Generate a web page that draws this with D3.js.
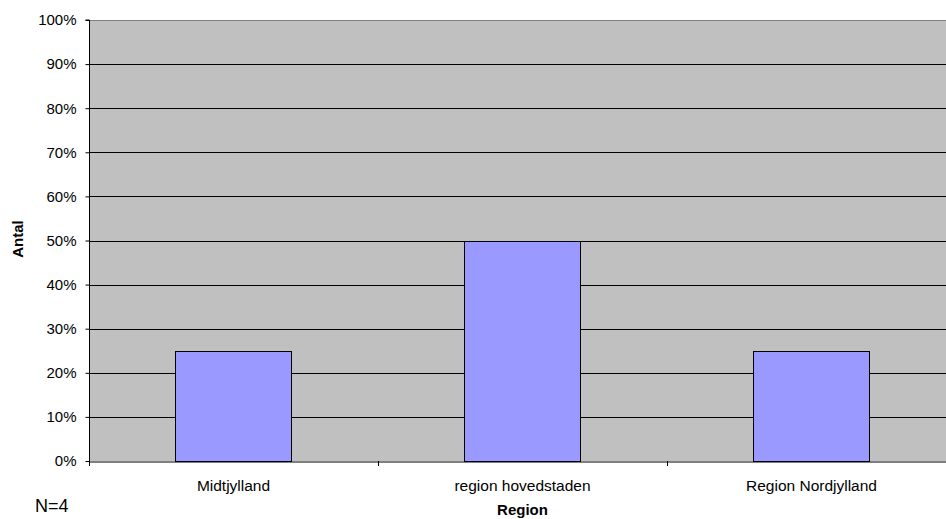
<!DOCTYPE html>
<html><head><meta charset="utf-8">
<script src="https://cdn.jsdelivr.net/npm/d3@7"></script>
<style>body{margin:0;background:#fff}text{font-family:"Liberation Sans",Arial,sans-serif}</style>
</head><body><svg id="c" width="946" height="519"></svg>
<script>
const categories = ["Midtjylland", "region hovedstaden", "Region Nordjylland"];
const values = [0.25, 0.5, 0.25];
const yTicks = [0,0.1,0.2,0.3,0.4,0.5,0.6,0.7,0.8,0.9,1.0];

const svg = d3.select("#c");
const L = 89, R = 956, T = 20, B = 461;
const x = d3.scaleBand().domain(categories).range([L, R]).paddingInner(0).paddingOuter(0);
const y = d3.scaleLinear().domain([0, 1]).range([B, T]);
const FF = '"Liberation Sans",Arial,sans-serif';

svg.append("rect").attr("x", L).attr("y", T).attr("width", R - L).attr("height", B - T).attr("fill", "#C0C0C0");
svg.append("line").attr("x1", L).attr("x2", R).attr("y1", T + 0.5).attr("y2", T + 0.5).attr("stroke", "#808080");

svg.selectAll(".grid").data(yTicks.filter(d => d > 0 && d < 1)).enter().append("line")
  .attr("x1", L).attr("x2", R).attr("y1", d => Math.round(y(d)) + 0.5).attr("y2", d => Math.round(y(d)) + 0.5)
  .attr("stroke", "#000");

const bw = x.bandwidth() * 0.4;
svg.selectAll(".bar").data(values).enter().append("rect")
  .attr("x", (d, i) => Math.floor(x(categories[i]) + x.bandwidth() / 2 - bw / 2) + 0.5)
  .attr("y", d => Math.round(y(d)) + 0.5)
  .attr("width", Math.round(bw))
  .attr("height", d => B - Math.round(y(d)))
  .attr("fill", "#9999FF").attr("stroke", "#000");

const yAxis = d3.axisLeft(y).tickValues(yTicks).tickFormat(d3.format(".0%")).tickSize(4).tickPadding(9);
const ya = svg.append("g").attr("transform", `translate(${L + 0.5},0)`).call(yAxis);
ya.select(".domain").attr("stroke", "#000").attr("d", `M-4,${T}H0V${B + 0.5}`);
ya.selectAll(".tick line").attr("stroke", "#000");
ya.selectAll("text").attr("font-size", 15).attr("fill", "#000").style("font-family", FF);

const xa = svg.append("g").attr("transform", `translate(0,${B + 0.5})`)
  .call(d3.axisBottom(x).tickSize(0).tickPadding(0));
xa.select(".domain").attr("stroke", "#000");
xa.selectAll("text").attr("font-size", 15.5).attr("fill", "#000").attr("dy", null).attr("y", 29.5)
  .style("font-family", FF);
const bounds = categories.map(c => x(c)).concat([R]);
svg.selectAll(".xt").data(bounds).enter().append("line")
  .attr("x1", d => Math.round(d) + 0.5).attr("x2", d => Math.round(d) + 0.5)
  .attr("y1", B).attr("y2", B + 5).attr("stroke", "#000");

svg.append("text").attr("x", x(categories[1]) + x.bandwidth() / 2).attr("y", 515)
  .attr("text-anchor", "middle").attr("font-size", 15).attr("font-weight", "bold").text("Region");
svg.append("text").attr("transform", "translate(22.5,239) rotate(-90)")
  .attr("text-anchor", "middle").attr("font-size", 15).attr("font-weight", "bold").text("Antal");
svg.append("text").attr("x", 35).attr("y", 512).attr("font-size", 18).text("N=4");
</script></body></html>
